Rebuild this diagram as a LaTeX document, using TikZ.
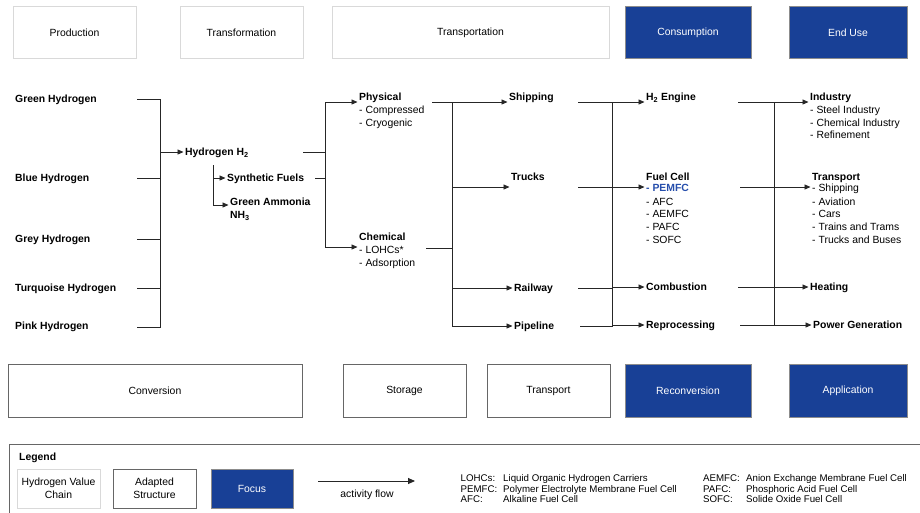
\documentclass[tikz,border=0pt]{standalone}
\usepackage{fontspec}
\setmainfont{Liberation Sans}
\usetikzlibrary{arrows.meta}
\definecolor{focusblue}{RGB}{24,64,150}
\definecolor{pemblue}{RGB}{38,78,172}
\begin{document}
\begin{tikzpicture}[x=1pt,y=-1pt,
  hvc/.style={draw=black!15, line width=0.8pt, fill=white, font=\fontsize{10.4}{12.5}\selectfont, inner sep=0pt},
  adapted/.style={draw=black!60, line width=1pt, fill=white, font=\fontsize{10.4}{12.5}\selectfont, inner sep=0pt},
  focus/.style={draw=black!45, line width=0.8pt, fill=focusblue, text=white, font=\fontsize{10.4}{12.5}\selectfont, inner sep=0pt},
  lab/.style={anchor=base west, inner sep=0pt, font=\fontsize{10.4}{12.5}\selectfont\bfseries},
  sub/.style={anchor=base west, inner sep=0pt, font=\fontsize{10.4}{12.5}\selectfont},
  conn/.style={draw=black!85, line width=0.9pt},
  flow/.style={conn, -{Triangle[length=6pt,width=5pt]}, shorten >=1.5pt},
  abbr/.style={anchor=base west, inner sep=0pt, font=\fontsize{9.7}{11}\selectfont},
]
\useasboundingbox (0,0) rectangle (920,512);
\clip (0,0) rectangle (920,512);
\fill[white] (0,0) rectangle (920,512);

% ---------- top row ----------
\node[hvc, minimum width=123pt, minimum height=52pt] (prod) at (74.5,32.5) {Production};
\node[hvc, minimum width=123pt, minimum height=52pt] (transf) at (241.5,32.5) {Transformation};
\node[hvc, minimum width=277pt, minimum height=52pt] (transp) at (470.5,32.5) {Transportation};
\node[focus, minimum width=126pt, minimum height=52pt] (cons) at (688,32.5) {Consumption};
\node[focus, minimum width=118pt, minimum height=52pt] (enduse) at (848,32.5) {End Use};

% ---------- bottom row ----------
\node[adapted, minimum width=294pt, minimum height=53pt] (conv) at (155,390.5) {Conversion};
\node[adapted, minimum width=123pt, minimum height=53pt] (stor) at (404.5,390.5) {Storage};
\node[adapted, minimum width=123pt, minimum height=53pt] (trans) at (548.5,390.5) {Transport};
\node[focus, minimum width=126pt, minimum height=53pt] (recon) at (688,390.5) {Reconversion};
\node[focus, minimum width=118pt, minimum height=53pt] (appl) at (848,390.5) {Application};

% ---------- production ----------
\node[lab] (green) at (15,102) {Green Hydrogen};
\node[lab] (blue) at (15,181) {Blue Hydrogen};
\node[lab] (grey) at (15,242) {Grey Hydrogen};
\node[lab] (turq) at (15,291.5) {Turquoise Hydrogen};
\node[lab] (pink) at (15,329.5) {Pink Hydrogen};
\coordinate (gS) at (137,99);
\coordinate (bS) at (137,178);
\coordinate (grS) at (137,239);
\coordinate (tS) at (137,288);
\coordinate (pS) at (137,327);
\coordinate (jA) at (160,99);
\coordinate (jAb) at (160,327);
\coordinate (jAh) at (160,152);
\draw[conn] (gS) -- (jA) -- (jAb) -- (pS);
\draw[conn] (bS) -- (bS -| jA);
\draw[conn] (grS) -- (grS -| jA);
\draw[conn] (tS) -- (tS -| jA);

% ---------- transformation ----------
\node[lab] (h2) at (185,155.5) {Hydrogen H\textsubscript{2}};
\draw[flow] (jAh) -- (jAh -| h2.west);
\coordinate (jB) at (213,165);
\coordinate (jBs) at (213,178);
\coordinate (jBa) at (213,205);
\node[lab] (syn) at (227,181.5) {Synthetic Fuels};
\node[lab] (amm) at (230,205.5) {Green Ammonia};
\node[lab] (nh3) at (230,218.5) {NH\textsubscript{3}};
\draw[conn] (jB) -- (jBa);
\draw[flow] (jBs) -- (jBs -| syn.west);
\draw[flow] (jBa) -- (jBa -| amm.west);

\coordinate (h2E) at (303,152);
\coordinate (synE) at (315,178);
\coordinate (jC) at (325,102);
\coordinate (jCb) at (325,247);
\draw[conn] (h2E) -- (h2E -| jC);
\draw[conn] (synE) -- (synE -| jC);
\draw[conn] (jC) -- (jCb);
\node[lab] (phys) at (359,100.5) {Physical};
\node[sub] (phys1) at (359,113.5) {- Compressed};
\node[sub] (phys2) at (359,126.5) {- Cryogenic};
\node[lab] (chem) at (359,240.5) {Chemical};
\node[sub] (chem1) at (359,253.5) {- LOHCs*};
\node[sub] (chem2) at (359,266.5) {- Adsorption};
\draw[flow] (jC) -- (jC -| phys.west);
\draw[flow] (jCb) -- (jCb -| chem.west);

% ---------- transportation ----------
\coordinate (physE) at (432,102);
\coordinate (chemE) at (426,248);
\coordinate (jD) at (452,102);
\coordinate (jDt) at (452,187);
\coordinate (jDr) at (452,288);
\coordinate (jDp) at (452,326);
\draw[conn] (physE) -- (jD) -- (jDp);
\draw[conn] (chemE) -- (chemE -| jD);
\node[lab] (ship) at (509,100.5) {Shipping};
\node[lab] (truck) at (511,180.5) {Trucks};
\node[lab] (rail) at (514,291.5) {Railway};
\node[lab] (pipe) at (514,329.5) {Pipeline};
\draw[flow] (jD) -- (jD -| ship.west);
\draw[flow] (jDt) -- (jDt -| truck.west);
\draw[flow] (jDr) -- (jDr -| rail.west);
\draw[flow] (jDp) -- (jDp -| pipe.west);

\coordinate (shipE) at (578,102);
\coordinate (truckE) at (578,187);
\coordinate (railE) at (578,288);
\coordinate (pipeE) at (580,326);
\coordinate (jE) at (612,102);
\coordinate (jEb) at (612,326);
\draw[conn] (shipE) -- (jE) -- (jEb) -- (pipeE);
\draw[conn] (truckE) -- (truckE -| jE);
\draw[conn] (railE) -- (railE -| jE);

% ---------- consumption ----------
\coordinate (jEh) at (612,102);
\coordinate (jEf) at (612,187);
\coordinate (jEc) at (612,287);
\coordinate (jEr) at (612,325);
\node[lab] (engine) at (646,100.5) {H\textsubscript{2} Engine};
\node[lab] (fc) at (646,180.2) {Fuel Cell};
\node[lab, text=pemblue] (fc1) at (646,191.8) {- PEMFC};
\node[sub] (fc2) at (646,205.2) {- AFC};
\node[sub] (fc3) at (646,217.8) {- AEMFC};
\node[sub] (fc4) at (646,230.8) {- PAFC};
\node[sub] (fc5) at (646,243.5) {- SOFC};
\node[lab] (comb) at (646,290.5) {Combustion};
\node[lab] (repro) at (646,328.5) {Reprocessing};
\draw[flow] (jEh) -- (jEh -| engine.west);
\draw[flow] (jEf) -- (jEf -| fc.west);
\draw[flow] (jEc) -- (jEc -| comb.west);
\draw[flow] (jEr) -- (jEr -| repro.west);

\coordinate (engE) at (738,102);
\coordinate (fcE) at (740,187);
\coordinate (combE) at (738,287);
\coordinate (reproE) at (740,325);
\coordinate (jF) at (774,102);
\coordinate (jFb) at (774,325);
\draw[conn] (engE) -- (jF) -- (jFb) -- (reproE);
\draw[conn] (fcE) -- (fcE -| jF);
\draw[conn] (combE) -- (combE -| jF);

% ---------- end use ----------
\coordinate (jFt) at (774,187);
\coordinate (jFh) at (774,287);
\node[lab] (ind) at (810,100.8) {Industry};
\node[sub] (ind1) at (810,113.5) {- Steel Industry};
\node[sub] (ind2) at (810,126.2) {- Chemical Industry};
\node[sub] (ind3) at (810,138.5) {- Refinement};
\node[lab] (tra) at (812,180.2) {Transport};
\node[sub] (tra1) at (812,191.8) {- Shipping};
\node[sub] (tra2) at (812,205.2) {- Aviation};
\node[sub] (tra3) at (812,217.8) {- Cars};
\node[sub] (tra4) at (812,230.8) {- Trains and Trams};
\node[sub] (tra5) at (812,243.5) {- Trucks and Buses};
\node[lab] (heat) at (810,290.5) {Heating};
\node[lab] (power) at (813,328.5) {Power Generation};
\draw[flow] (jF) -- (jF -| ind.west);
\draw[flow] (jFt) -- (jFt -| tra.west);
\draw[flow] (jFh) -- (jFh -| heat.west);
\draw[flow] (jFb) -- (jFb -| power.west);

% ---------- legend ----------
\draw[draw=black!60, line width=1pt] (9,444) rectangle (940,540);
\node[lab] (legend) at (19,460.5) {Legend};
\node[hvc, minimum width=83pt, minimum height=39pt, align=center] (lhvc) at (58.5,488.5) {Hydrogen Value\\Chain};
\node[adapted, minimum width=83pt, minimum height=39pt, align=center] (ladap) at (154.5,488.5) {Adapted\\Structure};
\node[focus, minimum width=82pt, minimum height=39pt] (lfocus) at (252,488.5) {Focus};
\coordinate (la1) at (318,481);
\coordinate (la2) at (415,481);
\draw[conn, -{Triangle[length=7pt,width=6pt]}] (la1) -- (la2);
\node[inner sep=0pt, font=\fontsize{10.4}{12.5}\selectfont] (lflow) at (367,494.5) {activity flow};

\node[abbr] (a1) at (460.5,481) {LOHCs:};
\node[abbr] (a2) at (460.5,492) {PEMFC:};
\node[abbr] (a3) at (460.5,502.5) {AFC:};
\node[abbr] (d1) at (503,481) {Liquid Organic Hydrogen Carriers};
\node[abbr] (d2) at (503,492) {Polymer Electrolyte Membrane Fuel Cell};
\node[abbr] (d3) at (503,502.5) {Alkaline Fuel Cell};
\node[abbr] (a4) at (703,481) {AEMFC:};
\node[abbr] (a5) at (703,492) {PAFC:};
\node[abbr] (a6) at (703,502.5) {SOFC:};
\node[abbr] (d4) at (746,481) {Anion Exchange Membrane Fuel Cell};
\node[abbr] (d5) at (746,492) {Phosphoric Acid Fuel Cell};
\node[abbr] (d6) at (746,502.5) {Solide Oxide Fuel Cell};
\end{tikzpicture}
\end{document}
